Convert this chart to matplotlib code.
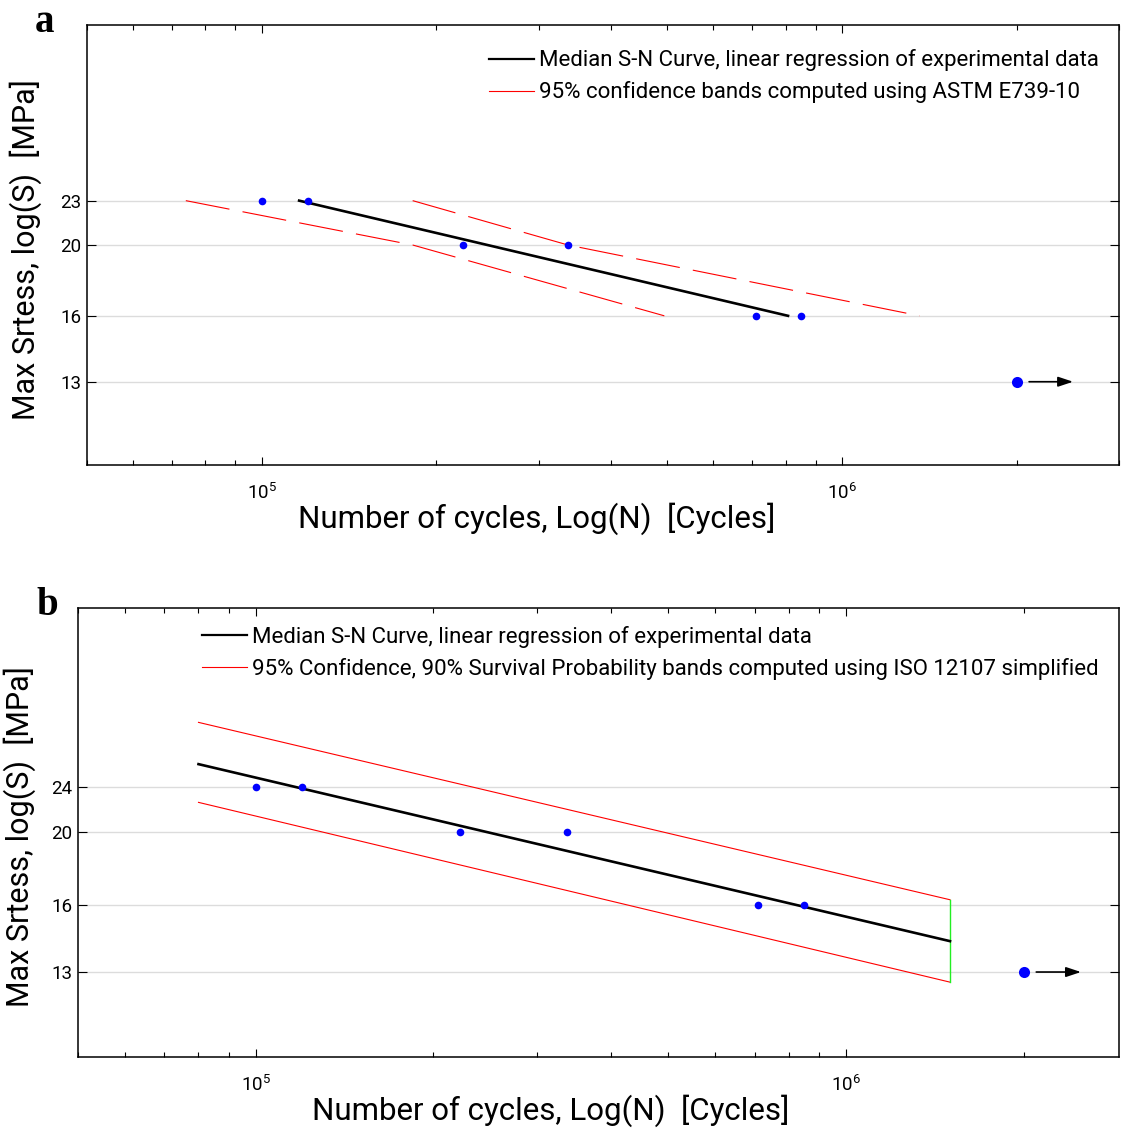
import matplotlib
matplotlib.use('Agg')
import matplotlib.pyplot as plt
from matplotlib.lines import Line2D
from matplotlib.ticker import FixedLocator, FixedFormatter, LogLocator, NullLocator, NullFormatter

plt.rcParams['font.family'] = ['Roboto', 'DejaVu Sans']
plt.rcParams['mathtext.fontset'] = 'custom'
plt.rcParams['mathtext.rm'] = 'Roboto'

# ---------------- data ----------------
cycles = [1.0e5, 1.2e5, 2.22e5, 3.37e5, 7.1e5, 8.5e5]
stress = [23, 23, 20, 20, 16, 16]
runout_cycles = [2.0e6]
runout_stress = [13]
arrow_start = 2.1e6
arrow_end = 2.5e6

# panel a: ASTM E739-10
a_median_N = [1.16e5, 8.07e5]
a_median_S = [23, 16]
a_band_S = [23, 20, 16]
a_lower_N = [7.4e4, 1.82e5, 4.94e5]
a_upper_N = [1.82e5, 3.37e5, 1.36e6]

# panel b: ISO 12107
b_line_N = [8.0e4, 1.5e6]
b_median_S = [24.7, 14.3]
b_upper_S = [28.1, 16.25]
b_lower_S = [21.95, 12.6]

ytick_vals = [13, 16, 20, 23]
a_ytick_labels = ['13', '16', '20', '23']
b_ytick_labels = ['13', '16', '20', '24']
xtick_vals = [1e5, 1e6]
xtick_labels = ['$\\mathregular{10^{5}}$', '$\\mathregular{10^{6}}$']

legend_a = ['Median S-N Curve, linear regression of experimental data',
            '95% confidence bands computed using ASTM E739-10']
legend_b = ['Median S-N Curve, linear regression of experimental data',
            '95% Confidence, 90% Survival Probability bands computed using ISO 12107 simplified']

xlabel = 'Number of cycles, Log(N)  [Cycles]'
ylabel = 'Max Srtess, log(S)  [MPa]'

W, H = 1121, 1128
fig = plt.figure(figsize=(W / 100, H / 100), dpi=100)
ax1 = fig.add_axes([87 / W, 1 - 465 / H, (1119 - 87) / W, 440 / H])
ax2 = fig.add_axes([78 / W, 1 - 1057 / H, (1119 - 78) / W, 449 / H])


def style(ax, ylabels, xmax, xlab_pos, ylab_pos):
    ax.set_xscale('log')
    ax.set_yscale('log')
    ax.set_xlim(5e4, xmax)
    ax.set_ylim(10, 40)
    ax.yaxis.set_major_locator(FixedLocator(ytick_vals))
    ax.yaxis.set_major_formatter(FixedFormatter(ylabels))
    ax.yaxis.set_minor_locator(NullLocator())
    ax.yaxis.set_minor_formatter(NullFormatter())
    ax.xaxis.set_major_locator(FixedLocator(xtick_vals))
    ax.xaxis.set_major_formatter(FixedFormatter(xtick_labels))
    ax.xaxis.set_minor_locator(LogLocator(base=10, subs=[2, 3, 4, 5, 6, 7, 8, 9]))
    ax.xaxis.set_minor_formatter(NullFormatter())
    ax.yaxis.grid(True, color='#dcdcdc', lw=1.0)
    ax.set_axisbelow(True)
    ax.tick_params(which='both', direction='in', top=True, right=True, color='black')
    ax.tick_params(axis='y', which='major', length=6.5, width=0.8, labelsize=13.5, pad=4)
    ax.tick_params(axis='x', which='major', length=6, width=0.8, labelsize=13.5, pad=13)
    ax.tick_params(axis='x', which='minor', length=3.5, width=0.8)
    for s in ax.spines.values():
        s.set_linewidth(1.1)
        s.set_color('black')
    ax.set_xlabel(xlabel, fontsize=22.5)
    ax.set_ylabel(ylabel, fontsize=22)
    ax.xaxis.set_label_coords(*xlab_pos)
    ax.yaxis.set_label_coords(*ylab_pos)


# ---------- panel a ----------
style(ax1, a_ytick_labels, 3.0e6, (0.436, -0.085), (-0.044, 0.49))
ax1.plot(a_median_N, a_median_S, color='black', lw=1.9, zorder=3)
ax1.plot(a_lower_N, a_band_S, color='red', lw=0.8, dashes=(40, 12), zorder=2)
ax1.plot(a_upper_N, a_band_S, color='red', lw=0.8, dashes=(40, 12), zorder=2)
ax1.plot(cycles, stress, 'o', color='blue', ms=5.5, mec='none', zorder=4)
ax1.plot(runout_cycles, runout_stress, 'o', color='blue', ms=8, mec='none', zorder=4)
ax1.annotate('', xy=(arrow_end, runout_stress[0]), xytext=(arrow_start, runout_stress[0]),
             arrowprops=dict(arrowstyle='-|>,head_length=0.9,head_width=0.3', color='black',
                             lw=1.2, shrinkA=0, shrinkB=0))
h_a = [Line2D([], [], color='black', lw=1.6), Line2D([], [], color='red', lw=0.8)]
ax1.legend(h_a, legend_a, loc='upper right', frameon=False, fontsize=16,
           handlelength=2.0, handletextpad=0.25, labelspacing=0.45,
           bbox_to_anchor=(1.0, 0.99), borderaxespad=0.5)
fig.text(45 / W, 1 - 32 / H, 'a', fontsize=28, fontweight='bold', family='Liberation Serif',
         ha='center', va='baseline')

# ---------- panel b ----------
style(ax2, b_ytick_labels, 2.9e6, (0.454, -0.083), (-0.040, 0.49))
ax2.plot(b_line_N, b_median_S, color='black', lw=1.9, zorder=3)
ax2.plot(b_line_N, b_upper_S, color='red', lw=0.8, zorder=2)
ax2.plot(b_line_N, b_lower_S, color='red', lw=0.8, zorder=2)
ax2.plot([b_line_N[1], b_line_N[1]], [b_lower_S[1], b_upper_S[1]], color='#22ee22', lw=1.0, zorder=2)
ax2.plot(cycles, stress, 'o', color='blue', ms=5.5, mec='none', zorder=4)
ax2.plot(runout_cycles, runout_stress, 'o', color='blue', ms=8, mec='none', zorder=4)
ax2.annotate('', xy=(arrow_end, runout_stress[0]), xytext=(arrow_start, runout_stress[0]),
             arrowprops=dict(arrowstyle='-|>,head_length=0.9,head_width=0.3', color='black',
                             lw=1.2, shrinkA=0, shrinkB=0))
h_b = [Line2D([], [], color='black', lw=1.6), Line2D([], [], color='red', lw=0.8)]
ax2.legend(h_b, legend_b, loc='upper left', frameon=False, fontsize=16,
           handlelength=2.0, handletextpad=0.25, labelspacing=0.45,
           bbox_to_anchor=(0.1, 1.005), borderaxespad=0.5)
fig.text(47 / W, 1 - 615 / H, 'b', fontsize=28, fontweight='bold', family='Liberation Serif',
         ha='center', va='baseline')

fig.savefig('out.png', dpi=100)
